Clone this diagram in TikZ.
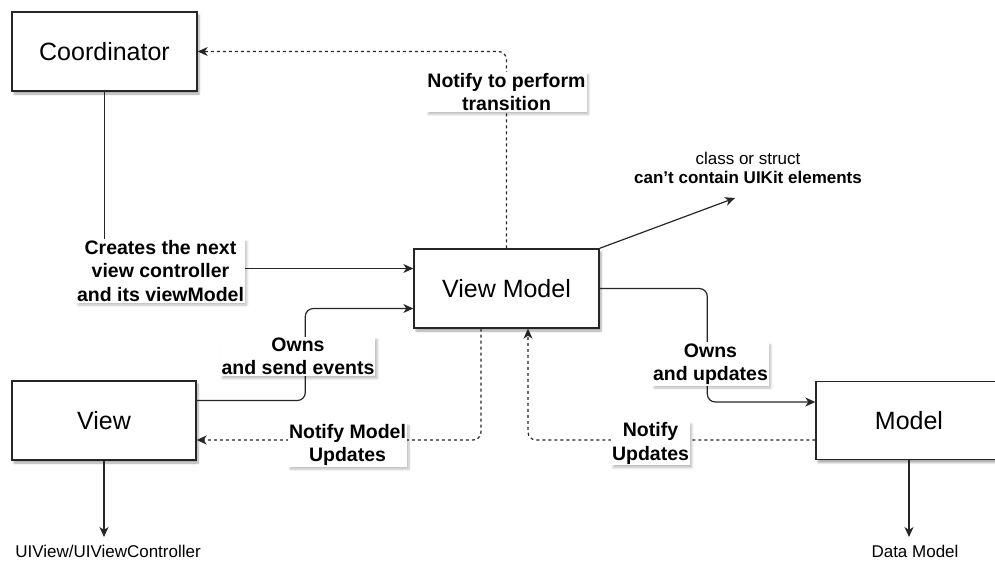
\documentclass[tikz,border=0pt]{standalone}
\usepackage{fontspec}
\setmainfont{Liberation Sans}
\usetikzlibrary{arrows.meta,shadows.blur,calc}
\definecolor{edgecol}{HTML}{262626}
\begin{document}
\begin{tikzpicture}[x=1pt,y=-1pt,
  box/.style={draw=edgecol, line width=1.4pt, fill=white, inner sep=0pt,
    minimum width=185pt, minimum height=79pt,
    blur shadow={shadow xshift=2pt, shadow yshift=-3pt, shadow blur steps=6, shadow opacity=35},
    font=\fontsize{25}{30}\selectfont},
  elabel/.style={fill=white, inner sep=1pt, align=center,
    blur shadow={shadow xshift=2pt, shadow yshift=-2.5pt, shadow blur steps=6, shadow opacity=25},
    font=\bfseries\fontsize{19.5}{23.5}\selectfont},
  plain/.style={inner sep=0pt, align=center, font=\fontsize{17}{19}\selectfont},
  arr/.style={draw=edgecol, line width=1.2pt, -{Stealth[length=10pt,width=9pt,inset=3pt]}},
  dsh/.style={arr, dash pattern=on 3pt off 3pt},
  line/.style={draw=edgecol, line width=1.2pt}
]
\useasboundingbox (0,0) rectangle (995,560);

% boxes
\node[box] (coord) at (104.5,51.5) {Coordinator};
\node[box] (vm) at (506.5,288.5) {View Model};
\node[box, minimum width=184pt] (view) at (104,420.5) {View};
\node[box, minimum width=186pt, minimum height=78pt] (model) at (909,420.5) {Model};

% free texts
\node[plain] (cls) at (748,167.5) {class or struct\\\textbf{can{\char"0027}t contain UIKit elements}};
\node[plain] (uiv) at (108,551) {UIView/UIViewController};
\node[plain] (dm) at (915,551) {Data Model};
\coordinate (clsend) at (735,198);
\coordinate (uivend) at (104,537);
\coordinate (dmend) at (909,537);

% connectors
\draw[arr] (coord.south) |- ($(vm.west)+(0,-20)$);
\draw[arr, rounded corners=8pt] ($(view.east)+(0,-20)$) -| ($(vm.west)+(-108,20)$) -- ($(vm.west)+(0,20)$);
\draw[arr, rounded corners=8pt] (vm.east) -| ($(model.west)+(-108,-18.5)$) -- ($(model.west)+(0,-18.5)$);
\draw[dsh, rounded corners=8pt] ($(model.west)+(0,19.5)$) -| ($(vm.south)+(21.5,0)$);
\draw[dsh, rounded corners=8pt] ($(vm.south)+(-25.5,0)$) |- ($(view.east)+(0,19.5)$);
\draw[dsh, rounded corners=8pt] (vm.north) |- (coord.east);
\draw[arr] (vm.north east) -- (clsend);
\draw[arr] (view.south) -- (uivend);
\draw[arr] (model.south) -- (dmend);

% edge labels
\node[elabel] (l1) at (160.5,271) {Creates the next\\view controller\\and its viewModel};
\node[elabel] (l2) at (298,356.5) {Owns\\and send events};
\node[elabel] (l3) at (710.5,364) {Owns\\and updates};
\node[elabel] (l4) at (650.5,443.5) {Notify\\Updates};
\node[elabel] (l5) at (347.5,445) {Notify Model\\Updates};
\node[elabel] (l6) at (506.5,92) {Notify to perform\\transition};
\end{tikzpicture}
\end{document}
